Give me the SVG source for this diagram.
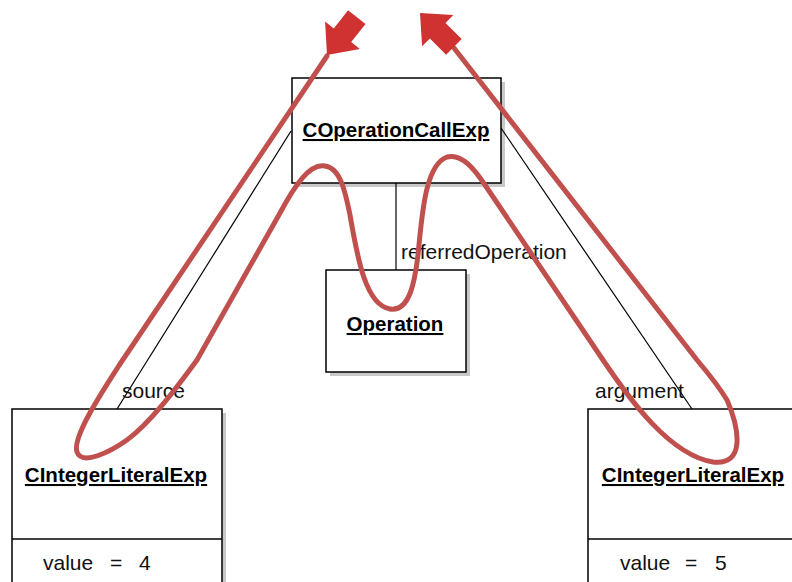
<svg xmlns="http://www.w3.org/2000/svg" width="792" height="582" viewBox="0 0 792 582">
  <style>
    .box { fill: #ffffff; stroke: #000000; stroke-width: 1.5; }
    .shadow { fill: #c8c8c8; }
    .title { font-family: "Liberation Sans", Arial, sans-serif; font-size: 20.5px; font-weight: bold; text-decoration: underline; fill: #000; text-anchor: middle; }
    .lbl { font-family: "Liberation Sans", Arial, sans-serif; font-size: 21px; fill: #111; }
    .conn { stroke: #000; stroke-width: 1.2; fill: none; }
    .curve { stroke: #c0504d; stroke-width: 5; fill: none; stroke-linecap: round; stroke-linejoin: round; }
    .head { fill: #d03232; }
  </style>
  <rect width="792" height="582" fill="#ffffff"/>

  <g id="node-COperationCallExp">
    <rect class="shadow" x="296" y="82" width="209" height="105"/>
    <rect class="box" x="292" y="78" width="209" height="105"/>
    <text class="title" x="396" y="137">COperationCallExp</text>
  </g>

  <g id="node-Operation">
    <rect class="shadow" x="330" y="274" width="140" height="102"/>
    <rect class="box" x="326" y="270" width="140" height="102"/>
    <text class="title" x="395" y="331">Operation</text>
  </g>

  <g id="node-CIntegerLiteralExp-source">
    <rect class="shadow" x="16" y="413" width="210" height="180"/>
    <rect class="box" x="12" y="409" width="210" height="180"/>
    <line x1="12" y1="539" x2="222" y2="539" stroke="#000" stroke-width="1.5"/>
    <text class="title" x="116" y="482">CIntegerLiteralExp</text>
    <text class="lbl" y="570"><tspan x="43">value</tspan><tspan x="110">=</tspan><tspan x="139">4</tspan></text>
  </g>

  <g id="node-CIntegerLiteralExp-argument">
    <rect class="shadow" x="592" y="413" width="210" height="180"/>
    <rect class="box" x="588" y="409" width="210" height="180"/>
    <line x1="588" y1="539" x2="798" y2="539" stroke="#000" stroke-width="1.5"/>
    <text class="title" x="693" y="482">CIntegerLiteralExp</text>
    <text class="lbl" y="570"><tspan x="620">value</tspan><tspan x="685">=</tspan><tspan x="715">5</tspan></text>
  </g>

  <g id="connectors">
    <line class="conn" x1="291" y1="131" x2="117" y2="409"/>
    <text class="lbl" x="122" y="398">source</text>
    <line class="conn" x1="501" y1="128" x2="692" y2="409"/>
    <text class="lbl" x="595" y="398">argument</text>
    <line class="conn" x1="396" y1="183" x2="396" y2="270"/>
    <text class="lbl" x="401" y="259">referredOperation</text>
  </g>

  <g id="annotation">
    <path class="curve" d="M327,56 L120,364 C100,395 72,438 77,452 C82,466 110,452 127,440 C150,423 175,390 197,360 L280,213 C295,185 310,163 325,166 C340,168 345,190 350,215 C357,255 365,305 390,309 C410,312 415,280 418,255 C422,215 425,165 447,157 C462,153 475,170 485,185 L603,360 C630,400 670,455 713,462 C745,466 740,430 727,400 C718,385 708,373 697,360 L454,48"/>
    <polygon class="head" points="327,55 325.1,21.6 333.8,28.4 348.1,10.3 365.5,23.9 351.2,42 359.9,48.9"/>
    <polygon class="head" points="420,13 453.3,15.1 445.5,22.9 461.7,39.1 446.1,54.7 429.9,38.5 422.1,46.3"/>
  </g>
</svg>
